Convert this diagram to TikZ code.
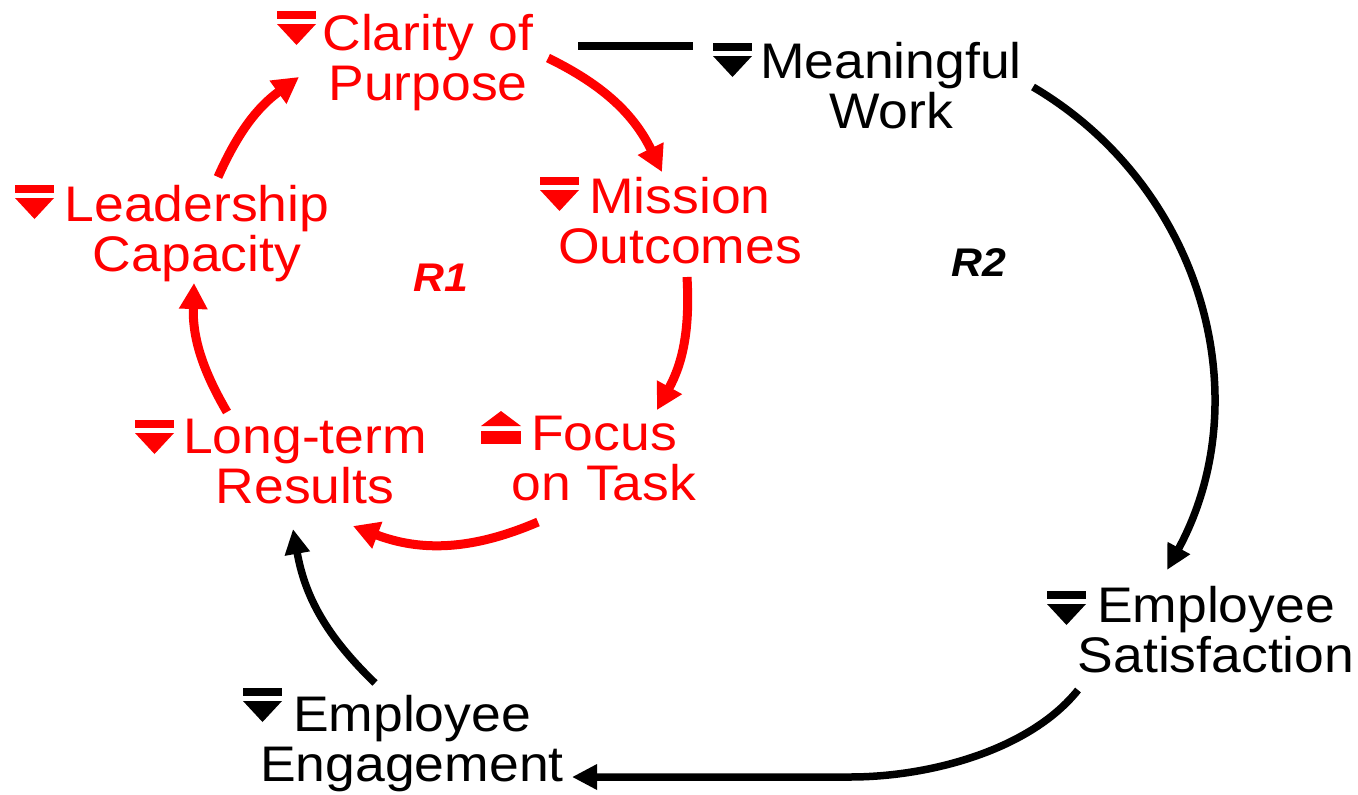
\documentclass[tikz,border=0pt]{standalone}
\usepackage{fontspec}
\setmainfont{Liberation Sans}[FakeStretch=1.07]
\usetikzlibrary{arrows.meta}
\definecolor{cldred}{RGB}{255,0,0}
\tikzset{
  var/.style={font=\fontsize{50}{50}\selectfont, align=center, anchor=base, inner sep=0pt},
  redvar/.style={var, text=cldred},
  blkvar/.style={var, text=black},
  redlink/.style={draw=cldred, line width=9pt, -{Triangle[length=26pt,width=27pt]}},
  blklink/.style={draw=black, line width=7.5pt, -{Triangle[length=25pt,width=24pt]}},
  plainlink/.style={draw=black, line width=7.5pt},
  looplabel/.style={font=\fontsize{40}{40}\selectfont\bfseries\itshape, inner sep=0pt},
  downsym/.pic={\fill (0,0) rectangle (39,-8); \fill (0,-13) -- (39,-13) -- (19.5,-34) -- cycle;},
  upsym/.pic={\fill (0,-15) -- (40,-15) -- (20,0) -- cycle; \fill (0,-20) rectangle (40,-33);},
}
\begin{document}
\begin{tikzpicture}[x=1pt,y=1pt]
\useasboundingbox (0,0) rectangle (1358,-795);
% variables (anchor = baseline of the last line)
\node[redvar] (cp) at (428,-100) {Clarity of\\Purpose};
\node[blkvar] (mw) at (891,-128) {Meaningful\\Work};
\node[redvar] (mo) at (680,-263) {Mission\\Outcomes};
\node[redvar] (lc) at (197,-271) {Leadership\\Capacity};
\node[redvar] (ft) at (604,-500) {Focus\\on Task};
\node[redvar] (lt) at (305,-503) {Long-term\\Results};
\node[blkvar] (es) at (1216,-672) {Employee\\Satisfaction};
\node[blkvar] (ee) at (412,-781) {Employee\\Engagement};
% loop labels
\node[looplabel, text=cldred] (r1) at (441,-278) {R1};
\node[looplabel, text=black] (r2) at (979,-263) {R2};
% trend symbols
\pic[color=cldred] at (277,-11) {downsym};
\pic[color=black] at (713,-43) {downsym};
\pic[color=cldred] at (540,-177) {downsym};
\pic[color=cldred] at (15,-185) {downsym};
\pic[color=cldred] at (481,-411) {upsym};
\pic[color=cldred] at (135,-420) {downsym};
\pic[color=black] at (1047,-591) {downsym};
\pic[color=black] at (243,-688) {downsym};
% connector end points
\coordinate (cp-out) at (548,-58);
\coordinate (mo-in) at (662,-172);
\coordinate (mo-out) at (687,-277);
\coordinate (ft-in) at (657,-410);
\coordinate (ft-out) at (538,-522);
\coordinate (lt-in) at (353,-526);
\coordinate (lt-out) at (227,-412);
\coordinate (lc-in) at (194,-283);
\coordinate (lc-out) at (218,-177);
\coordinate (cp-in) at (299,-77);
\coordinate (cp-right) at (578,-46);
\coordinate (mw-left) at (693,-46);
\coordinate (mw-out) at (1033,-87);
\coordinate (es-in) at (1167,-570);
\coordinate (es-out) at (1078,-690);
\coordinate (ee-in) at (572,-777);
\coordinate (ee-out) at (375,-683);
\coordinate (lt-in2) at (293,-529);
% R1 loop
\draw[redlink] (cp-out) to[bend left=19] (mo-in);
\draw[redlink] (mo-out) to[bend left=16] (ft-in);
\draw[redlink] (ft-out) to[bend left=22] (lt-in);
\draw[redlink] (lt-out) to[bend left=16] (lc-in);
\draw[redlink] (lc-out) to[bend left=15] (cp-in);
% R2 loop
\draw[plainlink] (cp-right) -- (mw-left);
\draw[blklink] (mw-out) to[bend left=44] (es-in);
\draw[blklink] (es-out) .. controls (1030,-750) and (930,-777) .. (850,-777) -- (ee-in);
\draw[blklink] (ee-out) to[bend left=18] (lt-in2);
\end{tikzpicture}
\end{document}
